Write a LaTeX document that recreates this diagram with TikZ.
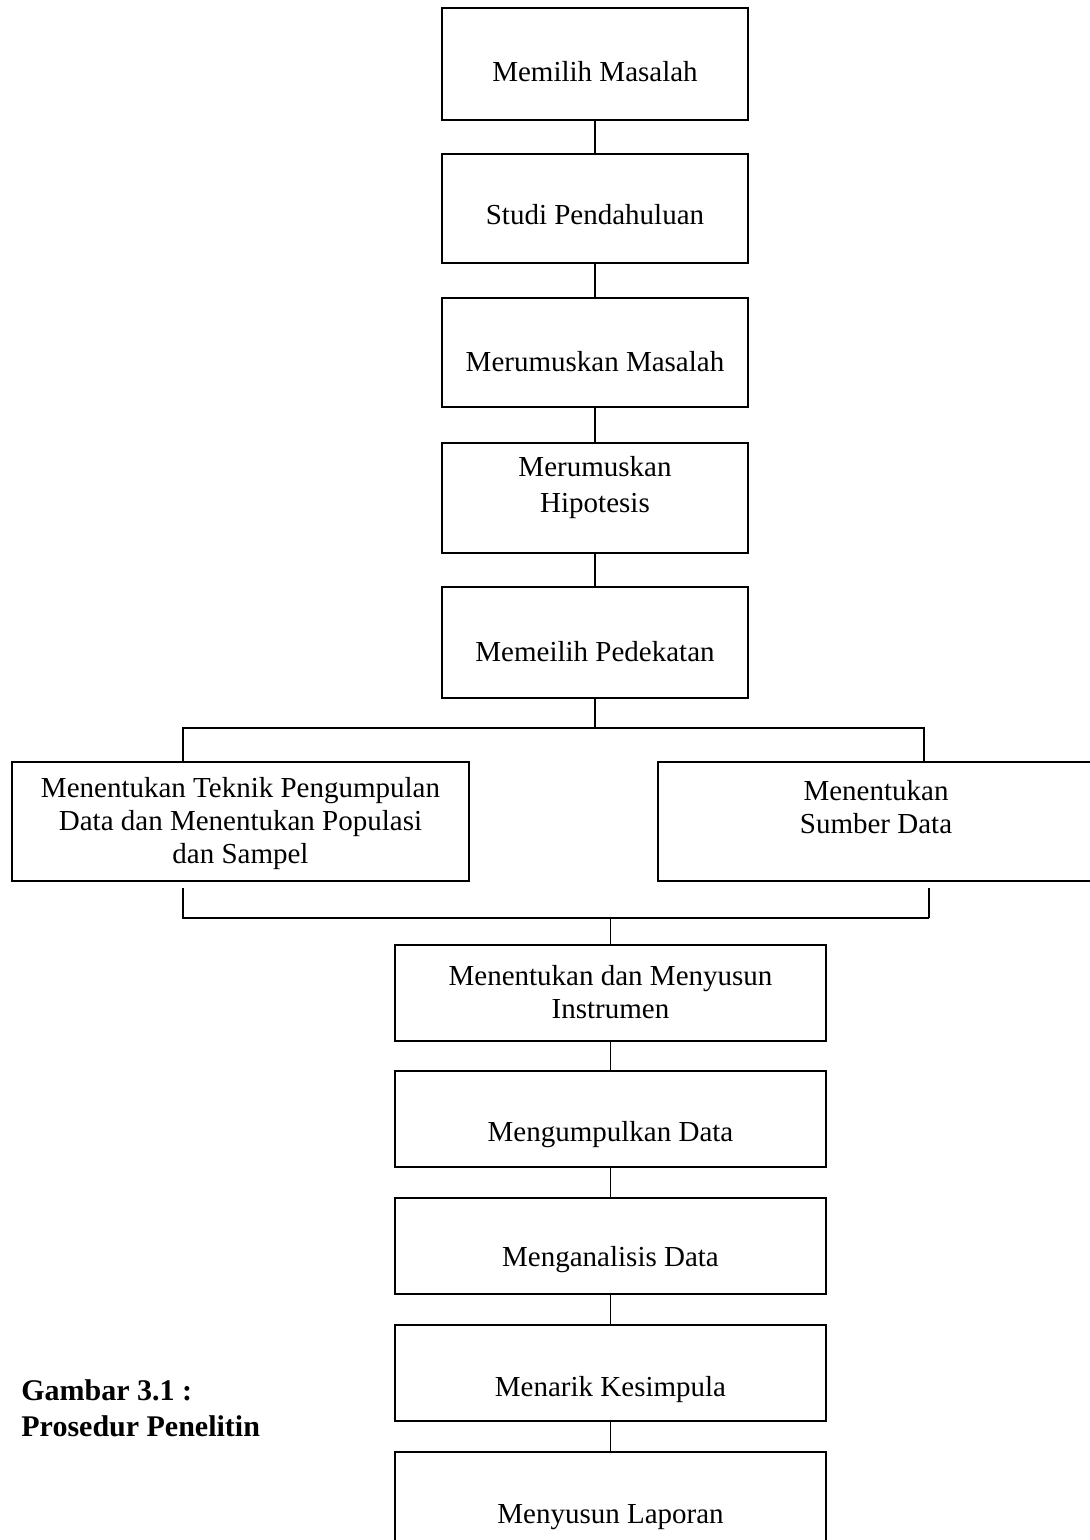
\documentclass[tikz,border=0pt]{standalone}
\usepackage{fontspec}
\setmainfont{Liberation Serif}
\usepackage{tikz}
\usetikzlibrary{positioning,calc}

\begin{document}
\begin{tikzpicture}[
    x=0.5pt, y=-0.5pt,
    box/.style 2 args={rectangle, draw, line width=1pt, minimum width=#1*0.5pt, minimum height=#2*0.5pt, inner sep=0pt},
    txt/.style={font=\fontsize{14.5}{16.5}\selectfont, align=center, inner sep=0pt},
    link/.style={line width=0.8pt, -}
]
    \useasboundingbox (0,0) rectangle (1090,1540);
    \clip (0,0) rectangle (1090,1540);

    % Upper column
    \node[box={306}{112}] (b1) at (595,64) {};
    \node[box={306}{109}] (b2) at (595,208.5) {};
    \node[box={306}{109}] (b3) at (595,352.5) {};
    \node[box={306}{110}] (b4) at (595,498) {};
    \node[box={306}{111}] (b5) at (595,642.5) {};
    \node[txt] (t1) at (595,72) {Memilih Masalah};
    \node[txt] (t2) at (595,215) {Studi Pendahuluan};
    \node[txt] (t3) at (595,362) {Merumuskan Masalah};
    \node[txt, font=\fontsize{14.5}{18}\selectfont] (t4) at (595,488) {Merumuskan\\Hipotesis};
    \node[txt] (t5) at (595,652) {Memeilih Pedekatan};
    \draw[link] (b1) -- (b2);
    \draw[link] (b2) -- (b3);
    \draw[link] (b3) -- (b4);
    \draw[link] (b4) -- (b5);

    % Two branches
    \node[box={457}{119}] (b6) at (240.5,821.5) {};
    \node[box={436}{119}] (b7) at (876,821.5) {};
    \node[txt] (t6) at (240.5,824) {Menentukan Teknik Pengumpulan\\Data dan Menentukan Populasi\\dan Sampel};
    \node[txt] (t7) at (876,807.5) {Menentukan\\Sumber Data};
    \coordinate (sl) at (183,728);
    \coordinate (sr) at (924,728);
    \coordinate (ml) at (183,918);
    \coordinate (mr) at (929,918);
    \draw[link] (b5) -- (b5.south |- sl);
    \draw[link] (sl |- b6.north) -- (sl) -- (sr) -- (sr |- b7.north);
    \draw[link, shorten <=3pt] (ml |- b6.south) -- (ml) -- (mr);
    \draw[link, shorten >=3pt] (mr) -- (mr |- b7.south);

    % Lower column
    \node[box={431}{96}] (b8) at (610.5,993) {};
    \node[box={431}{96}] (b9) at (610.5,1119) {};
    \node[box={431}{96}] (b10) at (610.5,1246) {};
    \node[box={431}{96}] (b11) at (610.5,1373) {};
    \node[box={431}{96}] (b12) at (610.5,1500) {};
    \node[txt] (t8) at (610.5,992.5) {Menentukan dan Menyusun\\Instrumen};
    \node[txt] (t9) at (610.5,1135) {Mengumpulkan Data};
    \node[txt] (t10) at (610.5,1260) {Menganalisis Data};
    \node[txt] (t11) at (610.5,1390) {Menarik Kesimpula};
    \node[txt] (t12) at (610.5,1517) {Menyusun Laporan};
    \draw[link] (b8.north |- ml) -- (b8);
    \draw[link] (b8) -- (b9);
    \draw[link] (b9) -- (b10);
    \draw[link] (b10) -- (b11);
    \draw[link] (b11) -- (b12);

    % Caption
    \node[font=\fontsize{15}{18}\selectfont\bfseries, align=left, anchor=west, inner sep=0pt] (cap) at (21,1408) {Gambar 3.1 :\\Prosedur Penelitin};
\end{tikzpicture}
\end{document}
